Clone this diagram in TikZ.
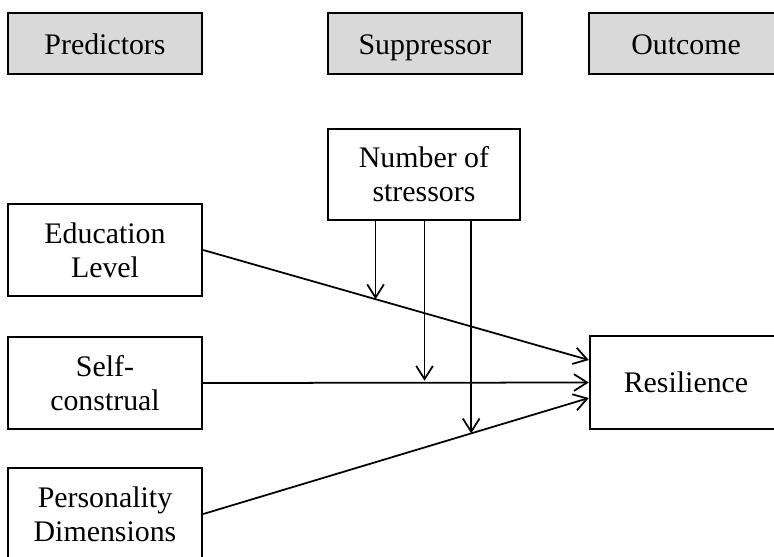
\documentclass[tikz,border=0pt]{standalone}
\usepackage{fontspec}
\setmainfont{Liberation Serif}
\usetikzlibrary{arrows.meta}
\definecolor{hdgray}{HTML}{D9D9D9}
\newcommand{\boxwd}{3.88cm}
\tikzset{
    node style hd/.style={draw,line width=1.6pt,fill=hdgray,minimum width=\boxwd,minimum height=1.22cm,
        font=\fontsize{17}{19.3}\selectfont,inner sep=0pt,text height=14pt,text depth=2pt},
    node style var/.style={draw,line width=1.4pt,minimum width=\boxwd,minimum height=1.84cm,align=center,
        font=\fontsize{17}{19.3}\selectfont,inner sep=0pt},
    arrow style path/.style={->,line width=1pt},
}
\begin{document}
\begin{tikzpicture}[x=0.02cm,y=-0.02cm,>={Straight Barb[length=7.5pt,width=9.5pt]}]
\useasboundingbox (0,0) rectangle (774,556);
\clip (0,0) rectangle (774,556);

% headings
\node [node style hd] (pred) at (105,43.5) {Predictors};
\node [node style hd] (supp) at (425,43.5) {Suppressor};
\node [node style hd] (outc) at (686,43.5) {Outcome};

% variables
\node [node style var,minimum width=3.84cm,minimum height=1.82cm] (stress) at (424,174.5) {Number of\\stressors};
\node [node style var] (edu) at (105,250) {Education\\Level};
\node [node style var] (self) at (105,383) {Self-\\construal};
\node [node style var] (pers) at (105,514) {Personality\\Dimensions};
\node [node style var,minimum width=3.84cm,minimum height=1.86cm] (resil) at (686,382.5) {Resilience};

\coordinate (inedu) at ([yshift=0.45cm]resil.west);
\coordinate (inself) at (resil.west);
\coordinate (inpers) at ([yshift=-0.31cm]resil.west);

% main paths
\draw [arrow style path] (edu.east) -- (inedu) coordinate[pos=0.447] (medu);
\draw [arrow style path] (self.east) -- (inself) coordinate[pos=0.574] (mself);
\draw [arrow style path] (pers.east) -- (inpers) coordinate[pos=0.695] (mpers);

% suppressor paths
\draw [arrow style path] (stress.south -| medu) -- (medu);
\draw [arrow style path] (stress.south -| mself) -- ([yshift=0.04cm]mself);
\draw [arrow style path] (stress.south -| mpers) -- (mpers);

\end{tikzpicture}
\end{document}
